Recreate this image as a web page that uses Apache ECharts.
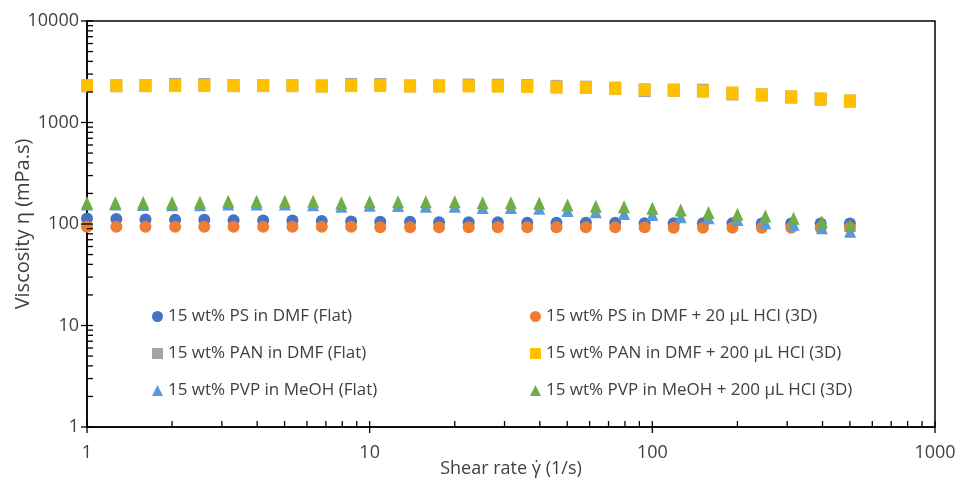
<!DOCTYPE html>
<html lang="en">
<head>
    <meta charset="UTF-8">
    <title>viscosity</title>
    <style>
        html, body {margin: 0; padding: 0; background: #fff;}
        #main {width: 957px; height: 479px;}
    </style>
</head>
<body>
<div id="main"></div>
<script src="https://cdn.jsdelivr.net/npm/echarts@6/dist/echarts.min.js"></script>
<script type="text/javascript">
// shear rates (1/s): PS and PAN runs use 27 points, PVP runs 28 points
var shearRateA = [1, 1.27, 1.61, 2.05, 2.6, 3.3, 4.2, 5.33, 6.77, 8.6, 10.9, 13.9, 17.6, 22.4, 28.4,
    36.1, 45.8, 58.2, 73.9, 93.9, 119, 151, 192, 244, 310, 394, 500];
var shearRateB = [1, 1.26, 1.58, 2, 2.51, 3.16, 3.98, 5.01, 6.31, 7.94, 10, 12.6, 15.8, 20, 25.1,
    31.6, 39.8, 50.1, 63.1, 79.4, 100, 126, 158, 200, 251, 316, 398, 501];

// viscosity (mPa.s)
var psFlat = [113, 112, 111, 110, 110, 109, 108, 108, 107, 106, 105, 105, 104, 104, 104, 103, 103, 103,
    103, 102, 102, 102, 102, 101, 101, 101, 101];
var ps3D = [94, 94, 94, 94, 94, 94, 94, 94, 94, 94, 93, 93, 93, 93, 93, 93, 93, 93, 93, 93, 92, 92, 92,
    92, 92, 92, 92];
var panFlat = [2300, 2300, 2310, 2370, 2370, 2310, 2310, 2310, 2290, 2370, 2370, 2290, 2290, 2340, 2330,
    2310, 2270, 2230, 2175, 2060, 2080, 2080, 1910, 1870, 1785, 1700, 1625];
var pan3D = [2310, 2310, 2310, 2310, 2310, 2310, 2310, 2310, 2290, 2310, 2310, 2290, 2290, 2290, 2280,
    2265, 2225, 2210, 2175, 2110, 2080, 2030, 1955, 1870, 1785, 1705, 1630];
var pvpFlat = [157, 157, 156, 155, 155, 157, 157, 157, 155, 150, 153, 152, 150, 150, 145, 145, 143, 136,
    132, 127, 124, 118, 115, 111, 103, 99, 92, 85];
var pvp3D = [162, 162, 163, 163, 164, 168, 168, 168, 168, 162, 166, 166, 166, 166, 162, 162, 160, 154,
    150, 148, 143, 137, 130, 125, 120, 114, 105, 97];

var seriesNames = [
    '15 wt% PS in DMF (Flat)', '15 wt% PS in DMF + 20 \u03BCL HCl (3D)',
    '15 wt% PAN in DMF (Flat)', '15 wt% PAN in DMF + 200 \u03BCL HCl (3D)',
    '15 wt% PVP in MeOH (Flat)', '15 wt% PVP in MeOH + 200 \u03BCL HCl (3D)'
];
var colors = ['#4472C4', '#ED7D31', '#A5A5A5', '#FFC000', '#5B9BD5', '#70AD47'];
var xDecades = [1, 10, 100, 1000];
var yDecades = [1, 10, 100, 1000, 10000];

var FONT = '"Open Sans", "Noto Sans", sans-serif';

function pairs(xs, ys) {
    return ys.map(function (v, i) { return [xs[i], v]; });
}

// tick marks: major ticks cross the axis, minor ticks point inwards
function tickList(decades) {
    var out = [];
    decades.forEach(function (d, i) {
        out.push([d, 1]);
        if (i < decades.length - 1) {
            for (var m = 2; m <= 9; m++) out.push([d * m, 0]);
        }
    });
    return out;
}
var xTicks = tickList(xDecades);
var yTicks = tickList(yDecades);

function renderXTick(params, api) {
    var p = api.coord([api.value(0), 1]);
    var major = api.value(1) === 1;
    return {type: 'line', shape: {x1: p[0], y1: p[1] + (major ? 6 : 0), x2: p[0], y2: p[1] - 6},
        style: {stroke: '#000', lineWidth: 1.3}};
}
function renderYTick(params, api) {
    var p = api.coord([1, api.value(0)]);
    var major = api.value(1) === 1;
    return {type: 'line', shape: {x1: p[0] - (major ? 6 : 0), y1: p[1], x2: p[0] + 6, y2: p[1]},
        style: {stroke: '#000', lineWidth: 1.3}};
}

var chart = echarts.init(document.getElementById('main'));

function scatter(idx, xs, ys, symbol, size) {
    return {
        name: seriesNames[idx],
        type: 'scatter',
        data: pairs(xs, ys),
        symbol: symbol,
        symbolSize: size,
        itemStyle: {color: colors[idx], opacity: 1},
        z: 2 + idx
    };
}

var legendText = {fontSize: 17, color: '#404040', fontFamily: FONT};

chart.setOption({
    animation: false,
    textStyle: {fontFamily: FONT},
    grid: {left: 87, right: 22, top: 21, bottom: 52, containLabel: false, outerBoundsMode: 'none',
        show: true, borderColor: '#000', borderWidth: 1.5},
    legend: [
        {
            orient: 'vertical', left: 147, top: 303, itemGap: 20, itemWidth: 11, itemHeight: 11,
            textStyle: legendText,
            data: [seriesNames[0], seriesNames[2], seriesNames[4]]
        },
        {
            orient: 'vertical', left: 525, top: 303, itemGap: 20, itemWidth: 11, itemHeight: 11,
            textStyle: legendText,
            data: [seriesNames[1], seriesNames[3], seriesNames[5]]
        }
    ],
    xAxis: {
        type: 'log', logBase: 10, min: 1, max: 1000,
        name: 'Shear rate \u03B3\u0307 (1/s)', nameLocation: 'middle', nameGap: 33, nameMoveOverlap: false,
        nameTextStyle: {fontSize: 18, color: '#404040', fontFamily: FONT},
        axisLine: {lineStyle: {color: '#000', width: 1.5}},
        axisTick: {show: false},
        splitLine: {show: false},
        axisLabel: {fontSize: 18, color: '#404040', margin: 17, fontFamily: FONT,
            formatter: function (v) { return String(Math.round(v)); }}
    },
    yAxis: {
        type: 'log', logBase: 10, min: 1, max: 10000,
        name: 'Viscosity \u03B7 (mPa.s)', nameLocation: 'middle', nameGap: 54, nameMoveOverlap: false,
        nameTextStyle: {fontSize: 20, color: '#404040', fontFamily: FONT},
        axisLine: {lineStyle: {color: '#000', width: 1.5}},
        axisTick: {show: false},
        splitLine: {show: false},
        axisLabel: {fontSize: 18, color: '#404040', margin: 8, fontFamily: FONT,
            formatter: function (v) { return String(Math.round(v)); }}
    },
    series: [
        scatter(0, shearRateA, psFlat, 'circle', 12),
        scatter(1, shearRateA, ps3D, 'circle', 12),
        scatter(2, shearRateA, panFlat, 'rect', [12, 13]),
        scatter(3, shearRateA, pan3D, 'rect', [12, 13]),
        scatter(4, shearRateB, pvpFlat, 'triangle', [12, 13]),
        scatter(5, shearRateB, pvp3D, 'triangle', [12, 13]),
        {type: 'custom', data: xTicks, renderItem: renderXTick, silent: true, clip: false, z: 20},
        {type: 'custom', data: yTicks, renderItem: renderYTick, silent: true, clip: false, z: 20}
    ]
});
</script>
</body>
</html>
